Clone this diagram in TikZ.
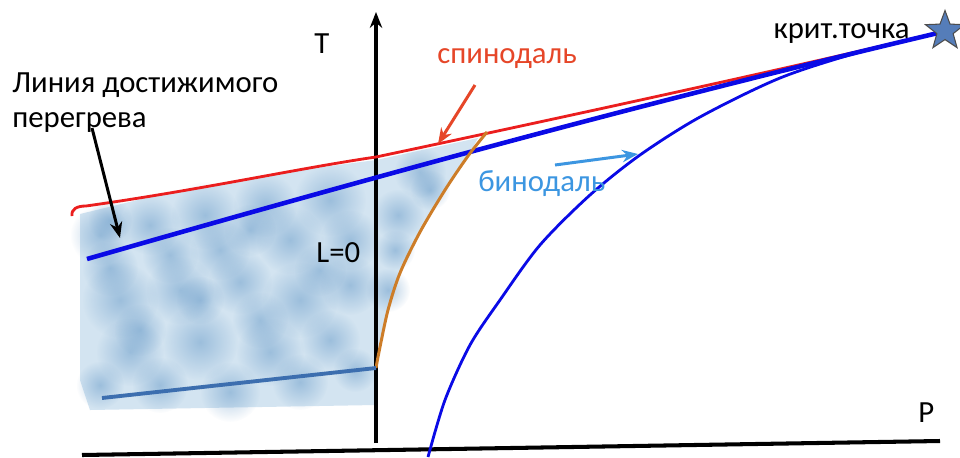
\documentclass[tikz,border=0pt]{standalone}
\usepackage{fontspec}
\setmainfont{Carlito}
\usetikzlibrary{arrows.meta,shapes.geometric,fadings}
\definecolor{spin}{RGB}{235,30,30}
\definecolor{spinlbl}{RGB}{230,70,40}
\definecolor{lineblue}{RGB}{10,10,230}
\definecolor{binlbl}{RGB}{60,150,225}
\definecolor{orangec}{RGB}{205,125,40}
\definecolor{steel}{RGB}{60,110,175}
\definecolor{patchc}{RGB}{200,222,238}
\definecolor{blobc}{RGB}{90,145,195}
\definecolor{starfill}{RGB}{85,125,185}
\tikzfading[name=blobfade, inner color=transparent!0, outer color=transparent!100]
\tikzset{
  lbl/.style={inner sep=0pt, font=\fontsize{17.5}{20}\selectfont},
  axisline/.style={black, line width=1.8pt},
  ptr/.style={line width=1.7pt, -{Stealth[length=9pt,width=7pt]}},
  blob/.style={fill=blobc, path fading=blobfade, fill opacity=0.45}
}
\begin{document}
\begin{tikzpicture}[x=0.02cm,y=-0.02cm]
\useasboundingbox[fill=white] (0,0) rectangle (960,457);

% blurred patch
\fill[patchc, opacity=0.8] (80,214) -- (150,197) -- (300,170) -- (376,160) -- (478,138)
  -- (468,156) -- (445,190) -- (420,230) -- (400,272) -- (388,310) -- (376,368) -- (376,405)
  -- (90,410) -- (80,380) -- cycle;
\foreach \x/\y/\r in {100/235/30,150/225/30,205/215/34,265/205/32,330/200/36,420/172/26,
  120/300/38,180/290/34,240/282/32,300/300/38,350/285/30,130/352/34,200/342/38,
  270/352/34,330/340/30,160/385/28,230/392/30,300/382/28,110/268/28,290/240/34,
  220/250/30,398/215/26,388/290/22,350/240/30,170/255/28,260/320/28,100/385/24,
  355/370/22,140/330/26,320/270/26,200/300/24,250/230/26,395/250/20,430/190/20,110/220/22}
  {\fill[blob] (\x,\y) circle (\r);}

% axes
\coordinate (tbot) at (376,443);
\coordinate (ttop) at (376,12);
\coordinate (pleft) at (82,455);
\coordinate (pright) at (940,441);
\coordinate (crit) at (938,33);
\draw[axisline, -{Stealth[length=9pt,width=7pt]}] (tbot) -- (ttop);
\draw[black, line width=2.3pt] (pleft) -- (pright);

% spinodal (red)
\coordinate (s0) at (72,216);
\coordinate (s1) at (86,206);
\draw[spin, line width=1.6pt] (s0) .. controls (71,209) and (77,206) .. (s1)
  .. controls (200,190) and (300,168) .. (376,157)
  .. controls (560,118) and (780,70) .. (crit);
% line of attainable superheating
\draw[lineblue, line width=2.6pt] (87,259) .. controls (300,198) and (600,113) .. (crit);
% binodal
\draw[lineblue, line width=1.6pt] plot[smooth] coordinates {(428,457) (445,400) (470,345) (500,300) (540,245) (590,195) (640,155) (700,117) (780,78) (860,52) (crit)};
% L=0 line (orange)
\draw[orangec, line width=1.7pt] plot[smooth] coordinates {(376,368) (379,352) (388,310) (400,273) (420,232) (445,190) (468,156) (487,132)};
% bottom line
\draw[steel, line width=2.2pt] (102,398) -- (376,368);

\node[star, star points=5, star point ratio=2.4, minimum size=0.82cm, inner sep=0pt,
  fill=starfill, draw=black!70, line width=0.6pt] (critstar) at (945,31) {};

% labels
\node[lbl, anchor=north west, align=left] (lbl1) at (12,72) {Линия достижимого\\перегрева};
\node[lbl, anchor=base west] (tl) at (314,53) {T};
\node[lbl, anchor=base west] (pl) at (918,422) {P};
\node[lbl, anchor=base west] (l0) at (316,262) {L=0};
\node[lbl, anchor=base west, text=spinlbl] (spl) at (437,63) {спинодаль};
\node[lbl, anchor=base west, text=binlbl] (bnl) at (478,191) {бинодаль};
\node[lbl, anchor=base east] (crl) at (910,38) {крит.точка};

% pointers
\coordinate (a1) at (92,128);
\coordinate (a2) at (120,238);
\draw[ptr, black] (a1) -- (a2);
\coordinate (b1) at (475,85);
\coordinate (b2) at (438,144);
\draw[ptr, spinlbl] (b1) -- (b2);
\coordinate (c1) at (555,165);
\coordinate (c2) at (638,154);
\draw[ptr, binlbl] (c1) -- (c2);
\end{tikzpicture}
\end{document}
